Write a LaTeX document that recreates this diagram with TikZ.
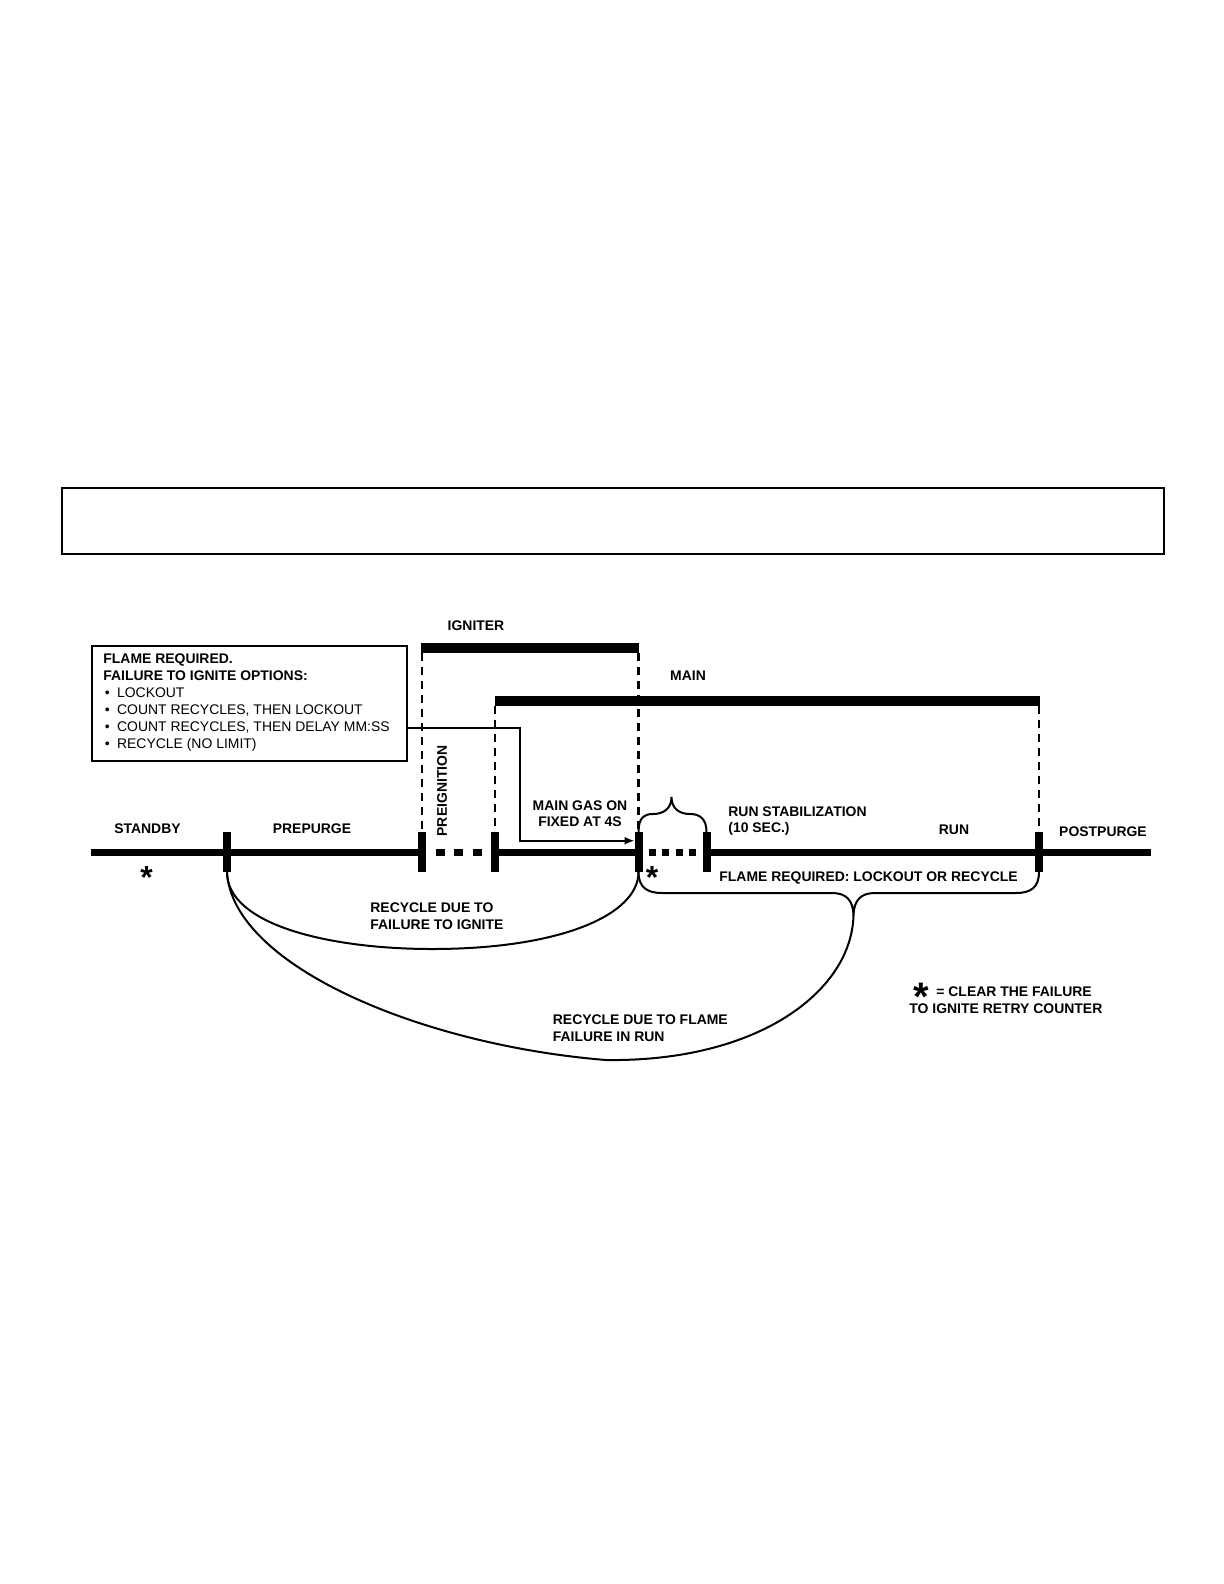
\documentclass[tikz,border=0pt]{standalone}
\usepackage{fontspec}
\setmainfont{Liberation Sans}
\usetikzlibrary{arrows.meta,calc}
\begin{document}
\begin{tikzpicture}[x=0.5bp,y=-0.5bp,
  lbl/.style={font=\bfseries\fontsize{7}{8.4}\selectfont, inner sep=0pt},
  reg/.style={font=\fontsize{7}{8.4}\selectfont, inner sep=0pt},
  timeline/.style={line width=3.5bp},
  tickmark/.style={line width=4bp},
  onbar/.style={line width=5bp},
  guide/.style={line width=1.25bp, dash pattern=on 4bp off 3bp},
  dotline/.style={line width=3.5bp},
  thin/.style={line width=1bp},
  starmark/.style={font=\bfseries\fontsize{16}{16}\selectfont, inner sep=0pt, anchor=base}
]
\useasboundingbox (0,0) rectangle (1224,1584);
\fill[white] (0,0) rectangle (1224,1584);

% empty header box
\node[draw, thin, inner sep=0pt, minimum width=551bp, minimum height=33bp, anchor=north west] (topbox) at (61,487) {};

% timeline coordinates
\coordinate (L) at (91,852.5);
\coordinate (R) at (1151,852.5);
\coordinate (t1) at (227,852.5);
\coordinate (t2) at (422,852.5);
\coordinate (t3) at (495,852.5);
\coordinate (t4) at (638.5,852.5);
\coordinate (t5) at (706.5,852.5);
\coordinate (t6) at (1039,852.5);
\foreach \t in {t1,t2,t3,t4,t5,t6}{
  \coordinate (\t top) at ($(\t)+(0,-20.5)$);
  \coordinate (\t bot) at ($(\t)+(0,19.5)$);
}

% main line
\draw[timeline] (L) -- (t2);
\draw[dotline, dash pattern=on 4.5bp off 4.75bp] ($(t2)+(13.5,0)$) -- ($(t3)+(-4,0)$);
\draw[timeline] (t3) -- (t4);
\draw[dotline, dash pattern=on 3.5bp off 3.25bp] ($(t4)+(10,0)$) -- ($(t5)+(-4,0)$);
\draw[timeline] (t5) -- (R);
\foreach \t in {t1,t2,t3,t4,t5,t6}{
  \draw[tickmark] (\t top) -- (\t bot);
}

% igniter and main bars
\coordinate (ig1) at (422,648);
\coordinate (ig2) at (638.5,648);
\coordinate (mn1) at (495,701);
\coordinate (mn2) at (1040,701);
\draw[onbar] ([xshift=-0.7bp]ig1) -- (ig2);
\draw[onbar] (mn1) -- (mn2);
\draw[guide] ($(ig1)+(0,5)$) -- (t2top);
\draw[guide] ($(ig2)+(0,5)$) -- (t4top);
\draw[guide] ($(mn1)+(0,5)$) -- (t3top);
\draw[guide] ($(mn2)+(-1,5)$) -- (t6top);

\node[lbl] (igniter) at (476,630) [anchor=base] {IGNITER};
\node[lbl] (mainlbl) at (688,680) [anchor=base] {MAIN};

% options box
\node[draw, thin, inner sep=0pt, minimum width=157.35bp, minimum height=57.5bp, anchor=north west] (optbox) at (91,645) {};
\node[lbl, anchor=base west] (o1) at (103,663.5) {FLAME REQUIRED.};
\node[lbl, anchor=base west] (o2) at (103,680.4) {FAILURE TO IGNITE OPTIONS:};
\node[reg, anchor=base west] (o3) at (104.5,697.3) {\makebox[6.1bp][l]{\textbullet}LOCKOUT};
\node[reg, anchor=base west] (o4) at (104.5,714.2) {\makebox[6.1bp][l]{\textbullet}COUNT RECYCLES, THEN LOCKOUT};
\node[reg, anchor=base west] (o5) at (104.5,731.1) {\makebox[6.1bp][l]{\textbullet}COUNT RECYCLES, THEN DELAY MM:SS};
\node[reg, anchor=base west] (o6) at (104.5,748) {\makebox[6.1bp][l]{\textbullet}RECYCLE (NO LIMIT)};

% connector from box to main gas on
\coordinate (cornerA) at (520,840.7);
\coordinate (arrowEnd) at (634.5,840.7);
\draw[thin, -{Latex[length=5bp,width=4bp]}] ([yshift=-12.1bp]optbox.east) -| (cornerA) -- (arrowEnd);

% phase labels
\node[lbl, anchor=base] (standby) at (147.5,833) {STANDBY};
\node[lbl, anchor=base] (prepurge) at (312,833) {PREPURGE};
\node[lbl, rotate=90] (preign) at (442,791) {PREIGNITION};
\node[lbl, anchor=base] (mg1) at (580,810) {MAIN GAS ON};
\node[lbl, anchor=base] (mg2) at (580,826) {FIXED AT 4S};
\node[lbl, anchor=base west] (rs1) at (728,816) {RUN STABILIZATION};
\node[lbl, anchor=base west] (rs2) at (728,832) {(10 SEC.)};
\node[lbl, anchor=base] (run) at (954,834) {RUN};
\node[lbl, anchor=base] (post) at (1103,836) {POSTPURGE};
\node[lbl, anchor=base west] (flreq) at (719,881) {FLAME REQUIRED: LOCKOUT OR RECYCLE};

% stars
\node[starmark] (star1) at (146.5,888) {\smash{*}};
\node[starmark] (star2) at (652,888) {\smash{*}};

% braces
\draw[thin] (t4top) .. controls (638.5,818) and (644,814) .. (653,814)
  .. controls (663,814) and (671.5,809) .. (671.5,797)
  .. controls (671.5,809) and (680,814) .. (690,814)
  .. controls (699,814) and (706.5,818) .. (t5top);
\coordinate (tip) at (853.5,915);
\draw[thin] (t4bot) .. controls (638.5,888) and (648,893) .. (662,893) -- (832,893)
  .. controls (846,893) and (853,900) .. (tip)
  .. controls (854,900) and (861,893) .. (875,893) -- (1016,893)
  .. controls (1030,893) and (1039,888) .. (t6bot);

% recycle curves
\draw[thin] (t1bot) .. controls (227,925) and (330,949) .. (432,949)
  .. controls (560,949) and (638.5,915) .. (t4bot);
\draw[thin] (t1bot) .. controls (232,965) and (420,1045) .. (606,1060)
  .. controls (760,1062) and (852,990) .. (tip);

\node[lbl, anchor=base west] (rc1) at (370,912) {RECYCLE DUE TO};
\node[lbl, anchor=base west] (rc2) at (370,929) {FAILURE TO IGNITE};
\node[lbl, anchor=base west] (rf1) at (552.5,1024) {RECYCLE DUE TO FLAME};
\node[lbl, anchor=base west] (rf2) at (552.5,1041) {FAILURE IN RUN};

% legend
\node[starmark, font=\bfseries\fontsize{20}{20}\selectfont] (star3) at (921,1010) {\smash{*}};
\node[lbl, anchor=base west] (lg1) at (936,996) {= CLEAR THE FAILURE};
\node[lbl, anchor=base west] (lg2) at (909,1013) {TO IGNITE RETRY COUNTER};
\end{tikzpicture}
\end{document}
